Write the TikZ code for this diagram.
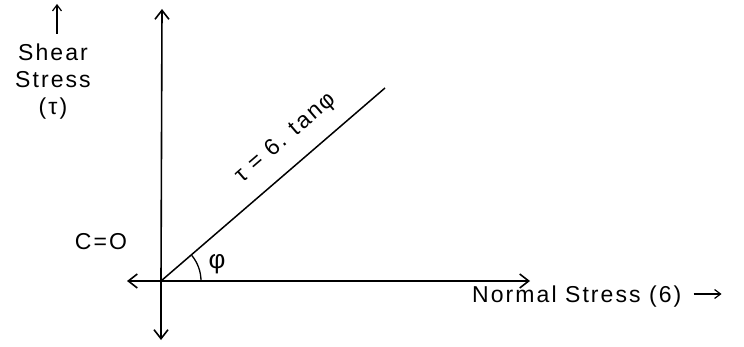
\documentclass[tikz,border=0pt]{standalone}
\usepackage{fontspec}
\setmainfont{Liberation Sans}[LetterSpace=9]
\usetikzlibrary{arrows.meta}
\begin{document}
\begin{tikzpicture}[x=1pt,y=-1pt,
  axis/.style={line width=1.6pt,-{Straight Barb[length=9pt,width=14pt,line width=1.6pt]}},
  small arrow/.style={line width=1.2pt,-{Straight Barb[length=6pt,width=9pt,line width=1.2pt]}},
  lbl/.style={font=\fontsize{23}{27}\selectfont,inner sep=0pt}]
\useasboundingbox (0,0) rectangle (744,347);
\coordinate (O) at (161,281);
\coordinate (top) at (162,9);
\coordinate (bot) at (161,340);
\coordinate (left) at (127,281);
\coordinate (right) at (530,281);
\coordinate (lineend) at (385,88);
\draw[axis] (O) -- (top);
\draw[axis] (O) -- (bot);
\draw[axis] (O) -- (left);
\draw[axis] (O) -- (right);
\draw[line width=1.5pt] (O) -- (lineend);
\draw[line width=1.3pt] ([shift={(0:40)}]O) arc[start angle=0,end angle=-40,radius=40];
\node[lbl,rotate=40.7] (eq) at (286,138) {τ = 6. tanφ};
\node[lbl,font=\fontsize{26}{28}\selectfont] (phi) at (217,264) {φ};
\node[lbl] (c) at (101,242) {C=O};
\node[lbl,align=center] (shear) at (53,82) {Shear\\Stress\\(τ)};
\coordinate (sa1) at (57,34);
\coordinate (sa2) at (57,4);
\draw[small arrow] (sa1) -- (sa2);
\node[lbl,anchor=west] (normal) at (472,297) {Normal Stress (6)};
\coordinate (na) at ([xshift=40pt]normal.east);
\draw[small arrow] ([xshift=12pt,yshift=3pt]normal.east) -- ([yshift=3pt]na);
\end{tikzpicture}
\end{document}
